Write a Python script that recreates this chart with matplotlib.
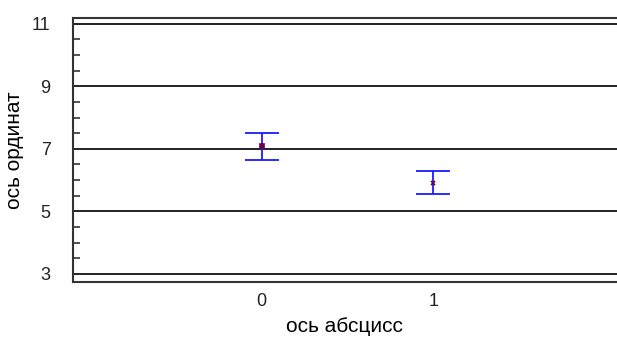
import matplotlib
matplotlib.use("Agg")
import matplotlib.pyplot as plt
from matplotlib.ticker import MultipleLocator

# values
x_vals = [0, 1]
means = [7.08, 5.91]
err_low = [0.43, 0.37]
err_high = [0.43, 0.37]
markers = ["s", "x"]
y_ticks = [3, 5, 7, 9, 11]

plt.rcParams["font.family"] = ["Liberation Sans", "DejaVu Sans"]

fig = plt.figure(figsize=(6.17, 3.38), dpi=100)
ax = fig.add_axes([0.118, 0.166, 0.882, 0.781])

for y in y_ticks:
    ax.axhline(y, color="#222222", lw=1.4, zorder=1)

for x, m, lo, hi, mk in zip(x_vals, means, err_low, err_high, markers):
    ax.errorbar([x], [m], yerr=[[lo], [hi]], fmt="none", ecolor="#1a1aff",
                elinewidth=1.3, capsize=12.5, capthick=1.3, zorder=2)
    ax.plot([x], [m], marker=mk, color="#6a0050", markersize=3.5,
            markeredgewidth=1.2, linestyle="none", zorder=3)

ax.set_xlim(-1.1, 2.07)
ax.set_ylim(2.74, 11.19)
ax.set_xticks(x_vals)
ax.set_yticks(y_ticks)
ax.yaxis.set_minor_locator(MultipleLocator(0.5))
ax.tick_params(axis="y", which="major", length=0, pad=16, labelsize=13,
               labelcolor="#222222")
ax.tick_params(axis="y", which="minor", direction="in", length=5, width=1.2,
               color="#333333")
ax.tick_params(axis="x", length=0, pad=8, labelsize=13, labelcolor="#222222")

for side in ["left", "top", "bottom"]:
    ax.spines[side].set_color("#333333")
    ax.spines[side].set_linewidth(1.5)
ax.spines["right"].set_visible(False)

ax.set_xlabel("ось абсцисс", fontsize=15, labelpad=5)
ax.set_ylabel("ось ординат", fontsize=15, labelpad=6)

fig.savefig("out.png", dpi=100)
